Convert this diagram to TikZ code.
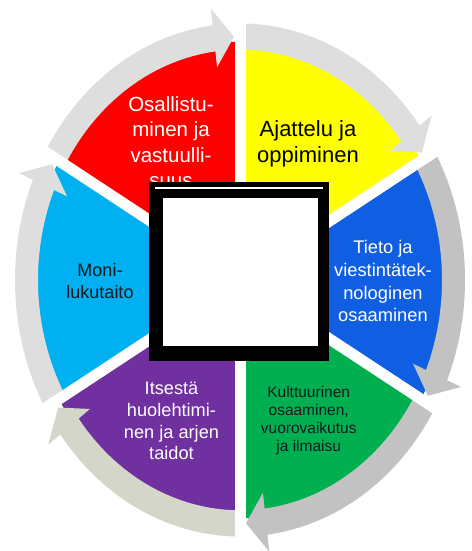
\documentclass[tikz,border=0pt]{standalone}
\usepackage{fontspec}
\setmainfont{Liberation Sans}
\definecolor{segred}{RGB}{255,0,0}
\definecolor{segyellow}{RGB}{255,255,0}
\definecolor{segblue}{RGB}{16,94,226}
\definecolor{seggreen}{RGB}{0,176,80}
\definecolor{segpurple}{RGB}{112,48,160}
\definecolor{segcyan}{RGB}{0,176,240}
\definecolor{arrlight}{RGB}{222,222,222}
\definecolor{arrdark}{RGB}{194,194,194}
\definecolor{arrgreen}{RGB}{211,214,200}
\definecolor{darktext}{RGB}{20,24,32}
\def\mysector#1#2#3{\fill[#1] (0,0) -- (#2:209) arc[start angle=#2, end angle=#3, radius=209] -- cycle;}
\def\myarrow#1#2#3{\fill[#1] (#2:202) arc[start angle=#2, end angle={#3+7}, radius=202]
  -- ({#3+7}:188) -- ({#3+1.6}:213.5) -- ({#3+7}:240) -- ({#3+7}:225)
  arc[start angle={#3+7}, end angle=#2, radius=225] -- cycle;}
\tikzset{
  lbl/.style={align=center, anchor=base, inner sep=0pt},
  gapline/.style={white, line width=11pt}
}
\begin{document}
\begin{tikzpicture}[x=1pt, y=1pt]
\useasboundingbox (0,0) rectangle (471,551);
\fill[white] (0,0) rectangle (471,551);
\begin{scope}[shift={(240,271)}, yscale=1.14]
  \mysector{segred}{150}{90}
  \mysector{segyellow}{90}{30}
  \mysector{segblue}{30}{-30}
  \mysector{seggreen}{-30}{-90}
  \mysector{segpurple}{-90}{-150}
  \mysector{segcyan}{210}{150}
  \myarrow{arrlight}{150}{90}
  \myarrow{arrlight}{90}{30}
  \myarrow{arrdark}{30}{-30}
  \myarrow{arrdark}{-30}{-90}
  \myarrow{arrgreen}{-90}{-150}
  \myarrow{arrlight}{210}{150}
  \foreach \a in {90,30,-30,-90,-150,150}
    \draw[gapline] (0,0) -- (\a:260);
\end{scope}
\node[lbl, text=white, font=\fontsize{20.5}{25.5}\selectfont] (osal) at (171,363) {Osallistu-\\minen ja\\vastuulli-\\suus};
\node[lbl, text=black, font=\fontsize{22}{26}\selectfont] (ajat) at (308,388) {Ajattelu ja\\oppiminen};
\node[lbl, text=white, font=\fontsize{18.3}{22.7}\selectfont] (tieto) at (383,229) {Tieto ja\\viestintätek-\\nologinen\\osaaminen};
\node[lbl, text=darktext, font=\fontsize{18}{22}\selectfont] (moni) at (100,252) {Moni-\\lukutaito};
\node[lbl, text=white, font=\fontsize{18.2}{21.7}\selectfont] (itse) at (171.5,91) {Itsestä\\huolehtimi-\\nen ja arjen\\taidot};
\node[lbl, text=darktext, font=\fontsize{15.5}{18.3}\selectfont] (kult) at (308.7,99) {Kulttuurinen\\osaaminen,\\vuorovaikutus\\ja ilmaisu};
\fill[black] (149,190) rectangle (329,369);
\fill[white] (163,205) rectangle (318,353);
\draw[white, line width=1.2pt] (155,363) -- (323,363);
\end{tikzpicture}
\end{document}
